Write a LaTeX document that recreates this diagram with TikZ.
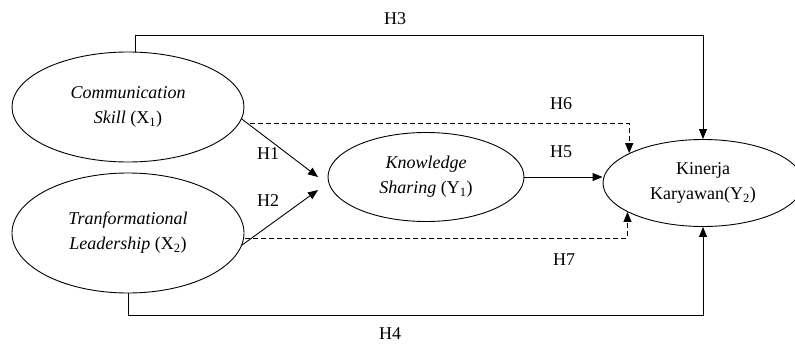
\documentclass[tikz,border=0pt]{standalone}
\usepackage{fontspec}
\setmainfont{Liberation Serif}
\usetikzlibrary{shapes.geometric,arrows.meta}
\begin{document}
\begin{tikzpicture}[x=1pt,y=-1pt,
  every node/.style={font=\fontsize{18}{25}\selectfont},
  latent/.style={ellipse,draw,line width=0.9pt,inner sep=0pt,align=center},
  conn/.style={line width=0.9pt},
  arr/.style={conn,-{Triangle[length=10pt,width=8pt]}},
  dsh/.style={dash pattern=on 5pt off 3pt},
  lbl/.style={inner sep=0pt}]
\useasboundingbox (0,0) rectangle (795,345);
\node[latent,minimum width=232pt,minimum height=110pt] (x1) at (128,107) {\textit{Communication}\\\textit{Skill} (X\textsubscript{1})};
\node[latent,minimum width=232pt,minimum height=120pt] (x2) at (128,233) {\textit{Tranformational}\\\textit{Leadership} (X\textsubscript{2})};
\node[latent,minimum width=196pt,minimum height=89pt] (ks) at (426,177) {\textit{Knowledge}\\\textit{Sharing} (Y\textsubscript{1})};
\node[latent,minimum width=200pt,minimum height=87pt] (y2) at (703,183) {Kinerja\\Karyawan(Y\textsubscript{2})};
\coordinate (t3) at (0,35);
\coordinate (t4) at (0,315);
\coordinate (h1e) at (318,177);
\coordinate (h2e) at (318,190);
\coordinate (h6s) at (250,123);
\coordinate (h7s) at (245,238);
\draw[arr] (x1.-6) -- (h1e);
\draw[arr] (x2.-6) -- (h2e);
\draw[arr] (x1.82) -- (x1.82 |- t3) -| (y2.north);
\draw[arr] (x2.south) -- (x2.south |- t4) -| (y2.south);
\draw[arr,dsh] (h6s) -| (y2.158.6);
\draw[arr,dsh] (h7s) -| (y2.201.4);
\draw[arr] (ks.east) -- (ks.east -| y2.west);
\node[lbl] (l3) at (395,19) {H3};
\node[lbl] (l4) at (390,334) {H4};
\node[lbl] (l6) at (561,104) {H6};
\node[lbl] (l5) at (561,152) {H5};
\node[lbl] (l7) at (564,260) {H7};
\node[lbl] (l1) at (268,154) {H1};
\node[lbl] (l2) at (268,201) {H2};
\end{tikzpicture}
\end{document}
